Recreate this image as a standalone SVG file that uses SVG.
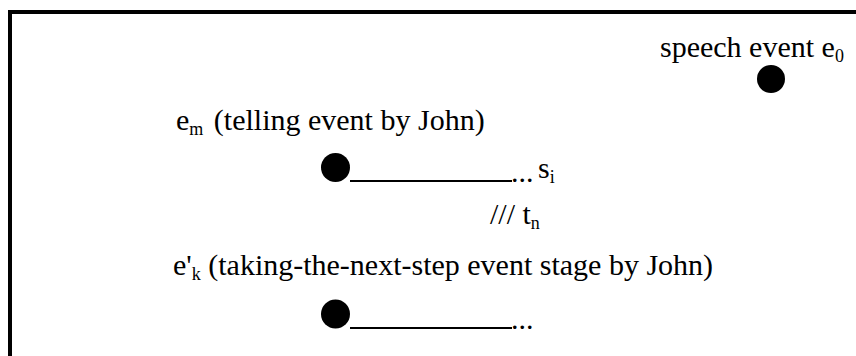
<svg xmlns="http://www.w3.org/2000/svg" width="856" height="356" viewBox="0 0 856 356">
<style>
text{font-family:'Liberation Serif','Times New Roman',serif;font-size:30px;fill:#000}
.sub{font-size:18px}
.dot{fill:#000}
.ln{stroke:#000;stroke-width:2;fill:none}
</style>
<rect x="0" y="0" width="856" height="356" fill="#fff"/>
<g id="frame"><path d="M10 356 V12 H856" stroke="#000" stroke-width="4" fill="none"/></g>
<g id="e0">
<circle class="dot" cx="771" cy="79" r="14"/>
<text x="660" y="57">speech event e<tspan class="sub" dy="5">0</tspan></text>
</g>
<g id="em">
<text x="176" y="130">e<tspan class="sub" dy="5">m</tspan><tspan dy="-5" dx="3"> (telling event by John)</tspan></text>
<circle class="dot" cx="335.5" cy="167.5" r="14.5"/>
</g>
<g id="si">
<text x="538" y="178">s<tspan class="sub" dy="5">i</tspan></text>
</g>
<g id="tn">
<text x="490" y="224">/// t<tspan class="sub" dy="5">n</tspan></text>
</g>
<g id="ek">
<text x="173" y="275">e'<tspan class="sub" dy="5">k</tspan><tspan dy="-5"> (taking-the-next-step event stage by John)</tspan></text>
<circle class="dot" cx="335.5" cy="314" r="14.5"/>
</g>
<g id="connectors">
<path class="ln" d="M350 181 H512"/>
<text x="511" y="182">...</text>
<path class="ln" d="M350 328 H512"/>
<text x="511" y="329">...</text>
</g>
</svg>
